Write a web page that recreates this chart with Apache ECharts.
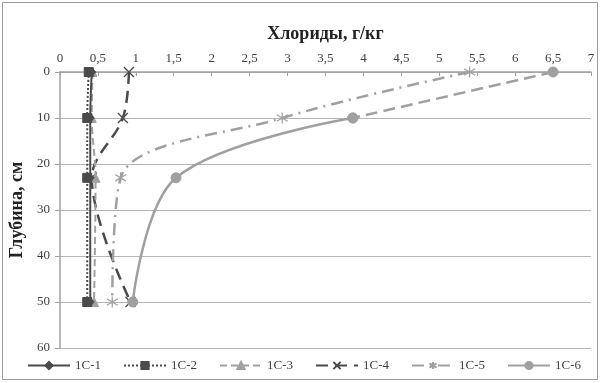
<!DOCTYPE html>
<html><head><meta charset="utf-8">
<script src="https://cdn.jsdelivr.net/npm/echarts@6/dist/echarts.min.js"></script>
<style>html,body{margin:0;padding:0;background:#fff}#c{width:601px;height:383px}</style>
</head><body><div id="c"></div>
<script>
const depths = [0, 10, 23, 50];
const c1 = [0.42, 0.40, 0.40, 0.40];
const c2 = [0.38, 0.36, 0.36, 0.36];
const c3 = [0.43, 0.42, 0.47, 0.45];
const c4 = [0.91, 0.83, 0.42, 0.93];
const c5 = [5.40, 2.93, 0.80, 0.69];
const c6 = [6.50, 3.86, 1.53, 0.96];
const names = ['1C-1', '1C-2', '1C-3', '1C-4', '1C-5', '1C-6'];
const xTicks = [0, 0.5, 1, 1.5, 2, 2.5, 3, 3.5, 4, 4.5, 5, 5.5, 6, 6.5, 7];

const pairs = (vals, from, to) => vals.map((v, i) => [v, depths[i]]).slice(from, to);
const DARK = '#4a4a4a', LIGHT = '#a0a0a0';
const X_PATH = 'path://M0,0L10,10M10,0L0,10';
const STAR_PATH = 'path://M5,0L5,10M0,2L10,8M0,8L10,2';
const SERIF = '"Liberation Serif","DejaVu Serif",serif';

function line(name, data, color, type, width, symbol, size, extra) {
  return Object.assign({
    name, type: 'line', data, smooth: 0.35,
    symbol, symbolSize: size,
    lineStyle: { color, type, width },
    itemStyle: { color, borderColor: color, borderWidth: 1 },
    z: 3
  }, extra || {});
}

const series = [
  line('1C-1', pairs(c1), DARK, 'solid', 2, 'diamond', 8, {z: 6}),
  line('1C-2', pairs(c2), DARK, [2, 2], 2, 'rect', 9, {z: 5}),
  line('1C-3', pairs(c3), LIGHT, [7, 4], 2, 'triangle', 9, {z: 4}),
  line('1C-4', pairs(c4), DARK, [12, 7], 2.5, X_PATH, 10, {itemStyle: {color: DARK, borderColor: DARK, borderWidth: 1.3}}),
  line('1C-5', pairs(c5), LIGHT, [12, 6, 2, 6], 2.5, STAR_PATH, 11, {itemStyle: {color: LIGHT, borderColor: LIGHT, borderWidth: 1.3}}),
  line('1C-6', pairs(c6, 1, 4), LIGHT, 'solid', 2.5, 'circle', 10),
  line('1C-6', pairs(c6, 0, 2), LIGHT, [12, 6], 2.5, 'circle', 10)
];

const chart = echarts.init(document.getElementById('c'), null, {renderer: 'canvas'});
chart.setOption({
  animation: false,
  backgroundColor: '#fff',
  graphic: [{type: 'rect', shape: {x: 2.5, y: 2.5, width: 595, height: 377}, style: {fill: 'none', stroke: '#9a9a9a', lineWidth: 1}, z: -1}],
  grid: {left: 59, right: 10, top: 72, bottom: 35},
  legend: {
    data: names, top: 354, left: 22, itemWidth: 42, itemHeight: 9, itemGap: 22,
    textStyle: {fontFamily: SERIF, fontSize: 13, color: '#404040'}
  },
  xAxis: {
    type: 'value', position: 'top', min: 0, max: 7, interval: 0.5,
    name: 'Хлориды, г/кг', nameLocation: 'middle', nameGap: 29,
    nameTextStyle: {fontFamily: SERIF, fontSize: 18, fontWeight: 'bold', color: '#222'},
    axisLine: {show: true, lineStyle: {color: '#a0a0a0', width: 1.5}},
    axisTick: {show: true, inside: true, length: 4, lineStyle: {color: '#a0a0a0'}},
    axisLabel: {margin: 7, fontFamily: SERIF, fontSize: 13, color: '#404040',
      formatter: v => xTicks.includes(v) ? String(v).replace('.', ',') : ''},
    splitLine: {show: false}
  },
  yAxis: {
    type: 'value', inverse: true, min: 0, max: 60, interval: 10,
    name: 'Глубина, см', nameLocation: 'middle', nameGap: 29,
    nameTextStyle: {fontFamily: SERIF, fontSize: 18, fontWeight: 'bold', color: '#222'},
    axisLine: {show: true, lineStyle: {color: '#a0a0a0', width: 1.5}},
    axisTick: {show: true, inside: false, length: 5, lineStyle: {color: '#a0a0a0'}},
    axisLabel: {margin: 10, fontFamily: SERIF, fontSize: 13, color: '#404040'},
    splitLine: {show: true, lineStyle: {color: '#b5b5b5', width: 1.2}}
  },
  series
});
</script></body></html>
